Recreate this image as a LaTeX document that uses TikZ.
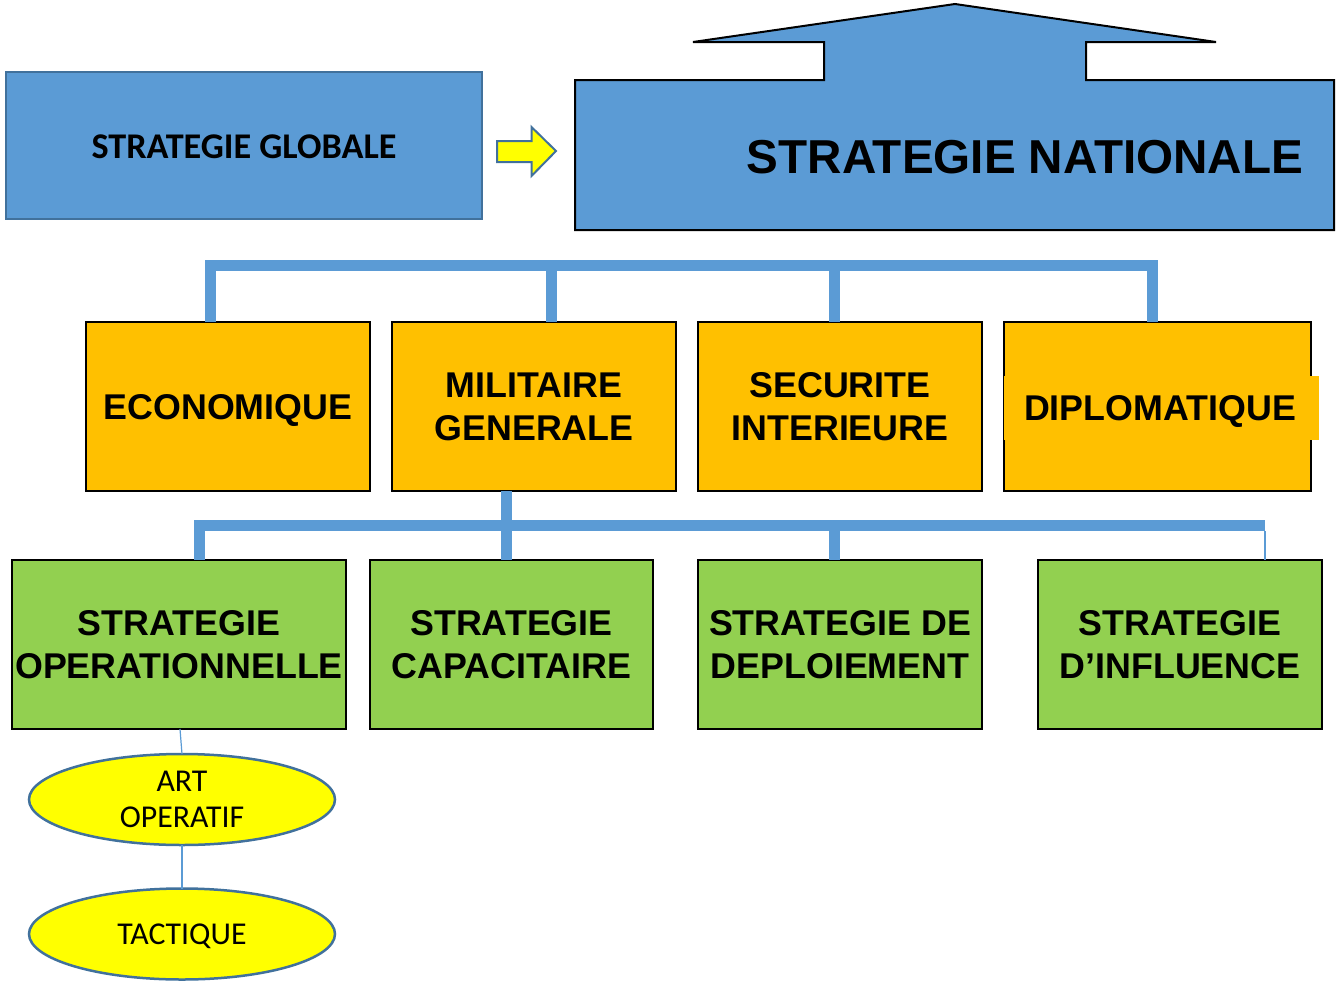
\documentclass[tikz,border=0pt]{standalone}
\usepackage{fontspec}
\setmainfont{Liberation Sans}
\newfontfamily\calib{Carlito}
\usetikzlibrary{shapes.geometric}
\definecolor{blueF}{HTML}{5B9BD5}
\definecolor{blueD}{HTML}{41719C}
\definecolor{orangeF}{HTML}{FFC000}
\definecolor{greenF}{HTML}{92D050}
\definecolor{yellowF}{HTML}{FFFF00}
\begin{document}
\begin{tikzpicture}[x=1pt,y=-1pt,
  bigfont/.style={font=\fontsize{35.8}{43}\selectfont\bfseries},
  obox/.style={draw=black,line width=2pt,fill=orangeF,minimum width=284pt,minimum height=169pt,inner sep=0pt,outer sep=0pt,
    bigfont,align=center},
  gbox/.style={draw=black,line width=2pt,fill=greenF,minimum height=169pt,inner sep=0pt,outer sep=0pt,
    bigfont,align=center},
  ell/.style={ellipse,draw=blueD,line width=2.5pt,fill=yellowF,minimum width=306pt,minimum height=91pt,inner sep=0pt,outer sep=0pt,
    font=\calib\fontsize{31.8}{36}\selectfont,align=center},
  bar/.style={draw=blueF,line width=11pt,line join=miter},
  thinl/.style={draw=blueF,line width=1.2pt},
  txt/.style={inner sep=0pt,outer sep=0pt,align=center}]
\useasboundingbox (0,0) rectangle (1336,980);
% strategie globale
\node[draw=blueD,line width=2pt,fill=blueF,minimum width=476pt,minimum height=147pt,inner sep=0pt] (sg) at (244,145.5) {};
\node[txt,font=\calib\fontsize{36.2}{40}\selectfont\bfseries,text depth=0pt] (sgt) at (244,147) {STRATEGIE GLOBALE};
% yellow arrow
\draw[draw=blueD,line width=2pt,fill=yellowF,line join=miter]
  (497,141) -- (531.5,141) -- (531.5,127) -- (556,151) -- (531.5,176) -- (531.5,162) -- (497,162) -- cycle;
% strategie nationale shape
\draw[draw=black,line width=2pt,fill=blueF,line join=miter]
  (575,80) -- (824,80) -- (824,42) -- (693,42) -- (955,4) -- (1216,42) -- (1086,42) -- (1086,80)
  -- (1334,80) -- (1334,230) -- (575,230) -- cycle;
\node[txt,font=\fontsize{47.6}{52}\selectfont\bfseries,text depth=0pt] (sn) at (1025,157) {STRATEGIE NATIONALE};
% orange boxes
\node[obox,text depth=0pt] (eco) at (228,406.5) {ECONOMIQUE};
\node[obox] (mil) at (534,406.5) {MILITAIRE\\GENERALE};
\node[obox] (sec) at (840,406.5) {SECURITE\\INTERIEURE};
\node[obox,minimum width=307pt] (dip) at (1157.5,406.5) {};
\fill[orangeF] (1004,376) rectangle (1319,440);
\node[txt,bigfont,text depth=0pt] (dipt) at (1160,408) {DIPLOMATIQUE};
% green boxes
\node[gbox,minimum width=334pt] (op) at (179,644.5) {STRATEGIE\\OPERATIONNELLE};
\node[gbox,minimum width=283pt] (cap) at (511.5,644.5) {STRATEGIE\\CAPACITAIRE};
\node[gbox,minimum width=284pt] (dep) at (840,644.5) {STRATEGIE DE\\DEPLOIEMENT};
\node[gbox,minimum width=284pt] (inf) at (1180,644.5) {STRATEGIE\\D’INFLUENCE};
% top connector bar
\coordinate (t1) at (210.5,265);
\coordinate (t2) at (551,265);
\coordinate (t3) at (834.5,265);
\coordinate (t4) at (1152.5,265);
\draw[bar] (t1 |- eco.north) -- (t1) -- (t4) -- (t4 |- dip.north);
\draw[bar] (t2) -- (t2 |- mil.north);
\draw[bar] (t3) -- (t3 |- sec.north);
% second connector bar
\coordinate (m0) at (506,491);
\coordinate (m1) at (199,525.5);
\coordinate (m2) at (506,525.5);
\coordinate (m3) at (834.5,525.5);
\coordinate (m4) at (1265,525.5);
\draw[bar] (m1 |- op.north) -- (m1) -- (m4);
\draw[bar] (mil.south -| m0) -- (m2 |- cap.north);
\draw[bar] (m3) -- (m3 |- dep.north);
\draw[thinl] (1265,531) -- (1265,560);
% ellipses
\node[ell] (art) at (182,799.5) {ART\\OPERATIF};
\node[ell,text depth=0pt] (tac) at (182,934) {TACTIQUE};
\draw[thinl] (180,729) -- (art.north);
\draw[thinl] (art.south) -- (tac.north);
\end{tikzpicture}
\end{document}
